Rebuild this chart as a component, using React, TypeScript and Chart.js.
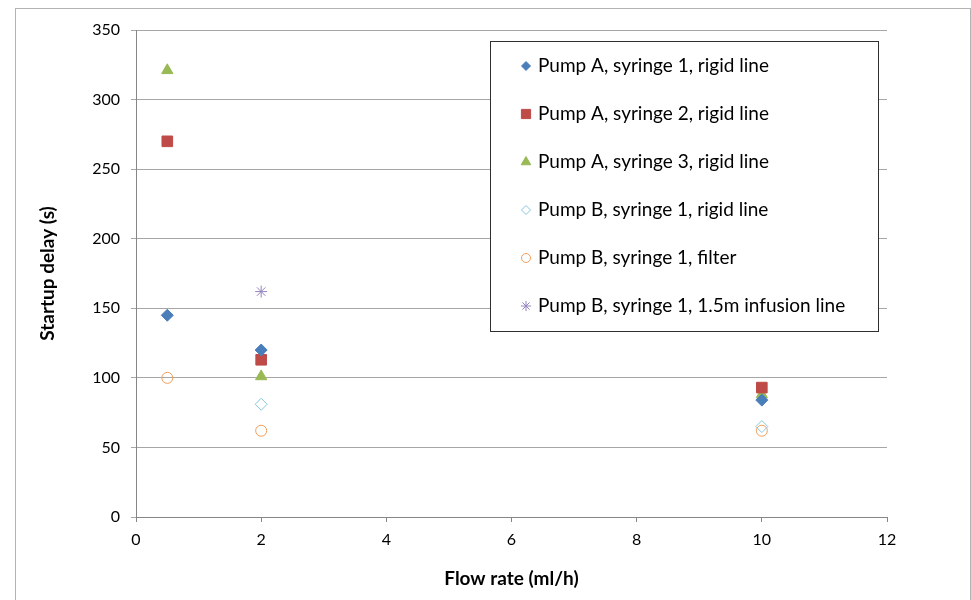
import React, { useEffect, useRef } from "react";
import { Chart, registerables } from "chart.js";
import { drawPoint } from "chart.js/helpers";

Chart.register(...registerables);

const FLOW_TICKS = [0, 2, 4, 6, 8, 10, 12];
const DELAY_TICKS = [0, 50, 100, 150, 200, 250, 300, 350];

const seriesLabels = [
  "Pump A, syringe 1, rigid line",
  "Pump A, syringe 2, rigid line",
  "Pump A, syringe 3, rigid line",
  "Pump B, syringe 1, rigid line",
  "Pump B, syringe 1, filter",
  "Pump B, syringe 1, 1.5m infusion line",
];

const flowA1 = [0.5, 2, 10];
const delayA1 = [145, 120, 84];
const flowA2 = [0.5, 2, 10];
const delayA2 = [270, 113, 93];
const flowA3 = [0.5, 2, 10];
const delayA3 = [321, 101, 88];
const flowB1 = [2, 10];
const delayB1 = [81, 65];
const flowB2 = [0.5, 2, 10];
const delayB2 = [100, 62, 62];
const flowB3 = [2];
const delayB3 = [162];

const FONT = "Lato, 'Open Sans', sans-serif";

const toPoints = (xs: number[], ys: number[]) => xs.map((x, i) => ({ x, y: ys[i] }));

const frameAndLegend = {
  id: "frameAndLegend",
  beforeDraw(chart: any) {
    const ctx = chart.ctx;
    ctx.save();
    ctx.fillStyle = "#ffffff";
    ctx.fillRect(0, 0, chart.width, chart.height);
    ctx.strokeStyle = "#b3b3b3";
    ctx.lineWidth = 1;
    ctx.strokeRect(15.5, 8.5, 955, 620);
    ctx.restore();
  },
  afterDraw(chart: any) {
    const ctx = chart.ctx;
    const box = { left: 490, top: 41, right: 878, bottom: 331 };
    ctx.save();
    ctx.fillStyle = "#ffffff";
    ctx.fillRect(box.left, box.top, box.right - box.left, box.bottom - box.top);
    ctx.strokeStyle = "#303030";
    ctx.lineWidth = 1;
    ctx.strokeRect(box.left + 0.5, box.top + 0.5, box.right - box.left, box.bottom - box.top);
    const rowH = 48;
    const firstY = 66;
    chart.data.datasets.forEach((ds: any, i: number) => {
      const y = firstY + i * rowH;
      const mx = 526;
      ctx.fillStyle = ds.pointBackgroundColor;
      ctx.strokeStyle = ds.pointBorderColor;
      ctx.lineWidth = ds.pointBorderWidth;
      drawPoint(
        ctx,
        { pointStyle: ds.pointStyle, radius: ds.legendRadius, rotation: 0, borderWidth: ds.pointBorderWidth } as any,
        mx,
        y
      );
      ctx.fillStyle = "#000000";
      ctx.font = `19px ${FONT}`;
      ctx.textBaseline = "middle";
      ctx.textAlign = "left";
      ctx.fillText(ds.label, 538, y);
    });
    ctx.restore();
  },
};

export default function App() {
  const ref = useRef<HTMLCanvasElement>(null);

  useEffect(() => {
    if (!ref.current) return;
    const mk = (
      label: string,
      data: { x: number; y: number }[],
      style: string,
      fill: string,
      stroke: string,
      radius: number,
      legendRadius: number,
      bw: number
    ) => ({
      label,
      data,
      pointStyle: style,
      pointBackgroundColor: fill,
      pointBorderColor: stroke,
      pointBorderWidth: bw,
      pointRadius: radius,
      pointHoverRadius: radius,
      legendRadius,
      showLine: false,
    });

    const chart = new Chart(ref.current, {
      type: "scatter",
      data: {
        datasets: [
          mk(seriesLabels[0], toPoints(flowA1, delayA1), "rectRot", "#4A7EBB", "#4A7EBB", 6, 4.5, 1),
          mk(seriesLabels[1], toPoints(flowA2, delayA2), "rect", "#BE4B48", "#BE4B48", 7.5, 6.5, 1),
          mk(seriesLabels[2], toPoints(flowA3, delayA3), "triangle", "#98B954", "#98B954", 6.5, 5.5, 1),
          mk(seriesLabels[3], toPoints(flowB1, delayB1), "rectRot", "rgba(255,255,255,0)", "#86C8DC", 6, 4.5, 1),
          mk(seriesLabels[4], toPoints(flowB2, delayB2), "circle", "rgba(255,255,255,0)", "#F0A060", 5.5, 4.5, 1),
          mk(seriesLabels[5], toPoints(flowB3, delayB3), "star", "#9484C0", "#9484C0", 6, 5, 1),
        ] as any,
      },
      options: {
        animation: false,
        responsive: false,
        maintainAspectRatio: false,
        devicePixelRatio: 1,
        layout: { padding: { left: 0, top: 30, right: 84, bottom: 0 } },
        plugins: {
          legend: { display: false },
          tooltip: { enabled: false },
        },
        scales: {
          x: {
            type: "linear",
            min: 0,
            max: 12,
            afterFit: (s: any) => {
              s.height = 83;
            },
            afterBuildTicks: (s: any) => {
              s.ticks = FLOW_TICKS.map((v) => ({ value: v }));
            },
            grid: {
              drawOnChartArea: false,
              drawTicks: true,
              tickLength: 5,
              color: "#868686",
            },
            border: { color: "#868686", width: 1 },
            ticks: {
              color: "#000000",
              padding: 8,
              font: { family: FONT, size: 16 },
            },
            title: {
              display: true,
              text: "Flow rate (ml/h)",
              color: "#000000",
              font: { family: FONT, size: 19, weight: "bold" },
              padding: { top: 0, bottom: 10 },
            },
          },
          y: {
            type: "linear",
            min: 0,
            max: 350,
            afterFit: (s: any) => {
              s.width = 136;
            },
            afterBuildTicks: (s: any) => {
              s.ticks = DELAY_TICKS.map((v) => ({ value: v }));
            },
            grid: {
              drawOnChartArea: true,
              drawTicks: true,
              tickLength: 5,
              color: "#a6a6a6",
            },
            border: { color: "#868686", width: 1 },
            ticks: {
              color: "#000000",
              padding: 11,
              font: { family: FONT, size: 16 },
            },
            title: {
              display: true,
              text: "Startup delay (s)",
              color: "#000000",
              font: { family: FONT, size: 19, weight: "bold" },
              padding: { top: 36, bottom: 0 },
            },
          },
        },
      },
      plugins: [frameAndLegend],
    } as any);
    return () => chart.destroy();
  }, []);

  return (
    <div style={{ position: "absolute", left: 0, top: 0, width: 971, height: 600 }}>
      <canvas ref={ref} width={971} height={600} style={{ display: "block" }} />
    </div>
  );
}
